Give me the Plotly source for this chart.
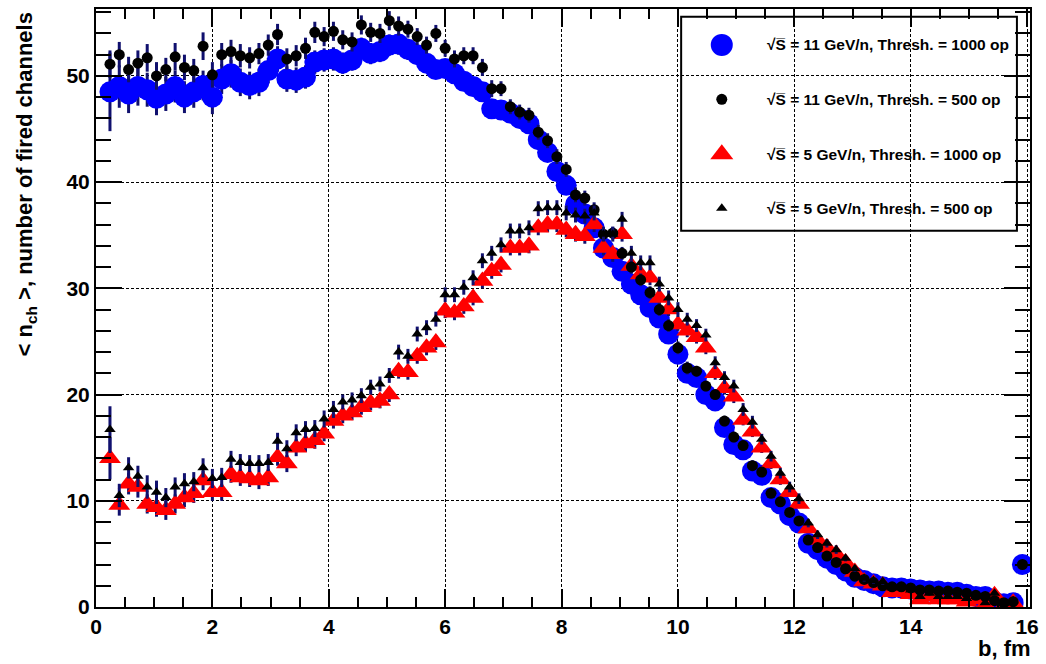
import numpy as np
import plotly.graph_objects as go

# Impact-parameter bins: 100 bins of width 0.16 fm over [0, 16]; the first bin is empty
bin_width = 0.16
b_fm = [round(bin_width * (i + 0.5), 2) for i in range(1, 100)]

# <n_ch> for sqrt(s) = 11 GeV/n, threshold 1000 op
n11_1000 = [48.5, 49.0, 48.3, 49.0, 48.7, 47.9, 48.3, 49.0, 48.0, 48.5,
            49.1, 48.0, 49.7, 50.2, 49.4, 49.1, 49.4, 50.5, 51.6, 49.7,
            49.6, 49.9, 51.3, 51.5, 51.6, 51.2, 51.5, 52.6, 52.1, 52.3,
            52.9, 53.0, 52.5, 52.0, 51.2, 50.6, 50.7, 50.2, 49.5, 49.0,
            48.5, 46.9, 46.8, 46.5, 46.0, 45.5, 44.0, 42.8, 41.0, 39.7,
            37.9, 37.0, 35.7, 33.8, 32.9, 31.6, 30.4, 29.4, 28.2, 27.2,
            25.7, 23.8, 22.0, 21.6, 20.0, 19.4, 16.9, 15.3, 14.8, 12.8,
            12.4, 10.3, 9.7, 8.6, 7.9, 6.0, 5.4, 4.6, 4.0, 3.4,
            2.8, 2.5, 2.2, 1.9, 1.8, 1.8, 1.7, 1.6, 1.5, 1.5,
            1.4, 1.4, 1.2, 1.0, 1.0, 0.5, 0.3, 0.4, 4.0]
e11_1000 = [3.7, 2.0, 1.8, 1.8, 1.6, 1.6, 1.6, 1.5, 1.5, 1.5,
            1.4, 1.6, 1.4, 1.3, 1.3, 1.3, 1.3, 1.2, 1.2, 1.2,
            1.2, 1.1, 1.1, 1.1, 1.1, 1.0, 1.0, 1.0, 1.0, 1.0,
            1.0, 1.0, 1.0, 0.9, 0.9, 0.9, 0.9, 0.9, 0.9, 0.9,
            0.9, 0.8, 0.8, 0.8, 0.8, 0.8, 0.8, 0.8, 0.8, 0.8,
            0.8, 0.7, 0.7, 0.7, 0.7, 0.7, 0.7, 0.7, 0.7, 0.7,
            0.6, 0.6, 0.6, 0.6, 0.6, 0.6, 0.6, 0.5, 0.5, 0.5,
            0.5, 0.5, 0.5, 0.4, 0.4, 0.4, 0.4, 0.3, 0.3, 0.3,
            0.3, 0.3, 0.2, 0.2, 0.2, 0.2, 0.2, 0.2, 0.2, 0.2,
            0.2, 0.2, 0.2, 0.2, 0.2, 0.2, 0.2, 0.2, 0.5]

# <n_ch> for sqrt(s) = 11 GeV/n, threshold 500 op
n11_500 = [51.1, 52.0, 50.6, 51.2, 51.7, 50.0, 50.6, 51.8, 50.8, 50.5,
           52.8, 50.1, 52.0, 52.3, 51.9, 51.7, 52.1, 52.9, 53.9, 51.6,
           51.9, 52.6, 54.1, 53.7, 54.2, 53.4, 53.2, 54.8, 54.1, 54.0,
           55.2, 54.7, 54.4, 53.7, 52.9, 54.0, 52.6, 51.6, 51.9, 51.9,
           50.8, 48.8, 48.8, 47.1, 46.6, 46.3, 44.7, 43.9, 42.4, 41.2,
           38.8, 38.5, 37.4, 35.1, 35.2, 33.3, 32.0, 30.8, 29.6, 28.0,
           26.5, 24.4, 22.5, 22.2, 20.8, 20.0, 17.5, 16.0, 15.2, 13.3,
           12.7, 10.7, 9.9, 8.9, 8.1, 6.3, 5.6, 4.8, 4.2, 3.6,
           2.9, 2.6, 2.3, 2.0, 1.9, 1.9, 1.8, 1.6, 1.6, 1.5,
           1.5, 1.4, 1.3, 1.1, 1.0, 0.6, 0.4, 0.5, 4.0]
e11_500 = [1.3, 1.2, 1.2, 1.2, 1.3, 1.3, 1.1, 1.3, 1.2, 1.1,
           1.3, 1.2, 1.1, 1.1, 1.1, 1.0, 1.0, 1.0, 1.0, 1.0,
           1.0, 1.0, 1.0, 0.9, 0.9, 0.9, 0.9, 0.9, 0.9, 0.9,
           0.9, 0.9, 0.8, 0.8, 0.8, 0.8, 0.8, 0.8, 0.8, 0.8,
           0.8, 0.8, 0.7, 0.7, 0.7, 0.7, 0.7, 0.7, 0.7, 0.7,
           0.7, 0.7, 0.7, 0.6, 0.6, 0.6, 0.6, 0.6, 0.6, 0.6,
           0.6, 0.6, 0.6, 0.5, 0.5, 0.5, 0.5, 0.5, 0.5, 0.5,
           0.4, 0.4, 0.4, 0.4, 0.4, 0.3, 0.3, 0.3, 0.3, 0.3,
           0.3, 0.2, 0.2, 0.2, 0.2, 0.2, 0.2, 0.2, 0.2, 0.2,
           0.2, 0.2, 0.2, 0.2, 0.2, 0.2, 0.2, 0.2, 0.4]

# <n_ch> for sqrt(s) = 5 GeV/n, threshold 1000 op
n5_1000 = [14.0, 9.6, 11.6, 11.3, 9.7, 9.4, 9.1, 9.7, 10.3, 10.7,
           11.9, 10.8, 10.8, 12.5, 12.2, 12.1, 11.9, 12.2, 14.1, 13.5,
           15.0, 15.4, 15.7, 16.3, 17.5, 18.0, 18.3, 18.8, 19.2, 19.4,
           20.0, 22.2, 22.1, 23.6, 24.4, 24.9, 27.9, 27.7, 28.3, 29.1,
           30.7, 31.6, 32.2, 33.8, 33.8, 34.0, 35.7, 36.0, 36.0, 35.5,
           35.1, 34.9, 36.0, 33.8, 33.2, 35.1, 32.1, 31.3, 31.0, 29.1,
           28.0, 26.6, 26.0, 25.4, 24.4, 22.0, 20.6, 19.8, 17.6, 16.5,
           15.0, 13.5, 12.0, 10.8, 9.7, 7.4, 6.3, 5.6, 5.0, 4.2,
           3.3, 2.4, 2.2, 2.0, 1.4, 1.5, 1.2, 0.7, 1.0, 0.7,
           0.7, 0.7, 0.5, 0.7, 0.2, 1.1, 0.1, 0.4, None]
e5_1000 = [2.0, 1.0, 1.0, 1.0, 0.9, 0.9, 0.9, 0.9, 0.9, 0.9,
           0.9, 0.8, 0.8, 0.8, 0.8, 0.8, 0.8, 0.8, 0.8, 0.8,
           0.8, 0.8, 0.8, 0.7, 0.7, 0.7, 0.7, 0.7, 0.7, 0.7,
           0.7, 0.7, 0.7, 0.7, 0.7, 0.7, 0.7, 0.7, 0.7, 0.7,
           0.7, 0.7, 0.7, 0.7, 0.7, 0.7, 0.7, 0.7, 0.7, 0.7,
           0.7, 0.7, 0.7, 0.7, 0.7, 0.7, 0.7, 0.7, 0.7, 0.7,
           0.6, 0.6, 0.6, 0.6, 0.6, 0.6, 0.6, 0.6, 0.5, 0.5,
           0.5, 0.5, 0.5, 0.4, 0.4, 0.4, 0.4, 0.3, 0.3, 0.3,
           0.3, 0.2, 0.2, 0.2, 0.2, 0.2, 0.2, 0.2, 0.2, 0.2,
           0.2, 0.2, 0.2, 0.2, 0.2, 0.2, 0.2, 0.2, 0.0]

# <n_ch> for sqrt(s) = 5 GeV/n, threshold 500 op
n5_500 = [16.7, 10.5, 13.1, 12.3, 11.3, 10.8, 10.3, 11.3, 11.6, 11.8,
          13.1, 12.1, 12.2, 13.9, 13.6, 13.5, 13.5, 13.6, 15.6, 14.9,
          16.4, 16.7, 16.8, 17.7, 18.6, 19.3, 19.5, 19.9, 20.7, 21.0,
          21.8, 24.0, 23.6, 25.7, 26.3, 27.1, 29.4, 29.4, 30.1, 31.0,
          32.6, 33.3, 34.1, 35.4, 35.4, 35.7, 37.5, 37.6, 37.6, 37.1,
          36.9, 36.8, 37.1, 35.1, 35.1, 36.5, 33.3, 32.4, 32.4, 30.4,
          29.1, 28.0, 27.1, 26.5, 25.6, 23.0, 21.6, 20.8, 18.6, 17.4,
          15.8, 14.2, 12.6, 11.3, 10.2, 7.9, 6.8, 6.0, 5.4, 4.6,
          3.6, 2.7, 2.5, 2.4, 1.8, 1.9, 1.6, 1.0, 1.3, 1.0,
          1.0, 1.0, 0.8, 1.0, 0.4, 1.3, 0.3, 0.6, None]
e5_500 = [2.2, 1.1, 1.0, 1.0, 1.1, 1.1, 0.9, 0.9, 1.0, 0.9,
          0.9, 0.9, 0.9, 0.8, 0.8, 0.8, 0.8, 0.8, 0.8, 0.8,
          0.8, 0.8, 0.8, 0.8, 0.8, 0.7, 0.7, 0.7, 0.7, 0.7,
          0.7, 0.7, 0.7, 0.7, 0.7, 0.7, 0.7, 0.7, 0.7, 0.7,
          0.7, 0.7, 0.7, 0.7, 0.7, 0.7, 0.7, 0.7, 0.7, 0.7,
          0.7, 0.7, 0.7, 0.7, 0.7, 0.7, 0.7, 0.7, 0.7, 0.7,
          0.7, 0.7, 0.6, 0.6, 0.6, 0.6, 0.6, 0.6, 0.6, 0.6,
          0.5, 0.5, 0.5, 0.5, 0.5, 0.4, 0.4, 0.4, 0.4, 0.3,
          0.3, 0.3, 0.3, 0.3, 0.2, 0.2, 0.2, 0.2, 0.2, 0.2,
          0.2, 0.2, 0.2, 0.2, 0.2, 0.2, 0.2, 0.2, 0.0]

x_ticks = [0, 2, 4, 6, 8, 10, 12, 14, 16]
y_ticks = [0, 10, 20, 30, 40, 50]

FONT = "Liberation Sans, Arial, sans-serif"
ERR_COLOR = "#10106e"

# (label, values, errors, symbol, size, colour), listed in legend order
series = {
    "11_1000": ("√S\u0305 = 11 GeV/n, Thresh. = 1000 op",
                n11_1000, e11_1000, "circle", 21, "#0000ff"),
    "11_500": ("√S\u0305 = 11 GeV/n, Thresh. = 500 op",
               n11_500, e11_500, "circle", 11, "#000000"),
    "5_1000": ("√S\u0305 = 5 GeV/n, Thresh. = 1000 op",
               n5_1000, e5_1000, "triangle-up", 19, "#ff0000"),
    "5_500": ("√S\u0305 = 5 GeV/n, Thresh. = 500 op",
              n5_500, e5_500, "triangle-up", 10, "#000000"),
}
legend_order = ["11_1000", "11_500", "5_1000", "5_500"]
draw_order = ["11_1000", "5_1000", "11_500", "5_500"]

fig = go.Figure()
for key in draw_order:
    label, vals, errs, sym, size, col = series[key]
    fig.add_trace(go.Scatter(
        x=b_fm, y=vals, mode="markers", name=label,
        marker=dict(symbol=sym, size=size, color=col, line=dict(width=0)),
        error_y=dict(type="data", array=errs, visible=True,
                     color=ERR_COLOR, thickness=3, width=0),
        showlegend=False,
    ))

# Legend box, with its markers placed on an overlay axis spanning the plot area
leg_x0, leg_x1, leg_y0, leg_y1 = 0.6265, 0.986, 0.629, 0.987
fig.add_shape(type="rect", xref="paper", yref="paper",
              x0=leg_x0, x1=leg_x1, y0=leg_y0, y1=leg_y1,
              line=dict(color="black", width=2), fillcolor="white", layer="between")
row_y = [0.940, 0.849, 0.757, 0.667]
for row, key in enumerate(legend_order):
    label, vals, errs, sym, size, col = series[key]
    fig.add_trace(go.Scatter(
        x=[0.670], y=[row_y[row]], xaxis="x2", yaxis="y2", mode="markers",
        marker=dict(symbol=sym, size=size + 1 if size > 15 else size,
                    color=col, line=dict(width=0)),
        showlegend=False, hoverinfo="skip",
    ))
    fig.add_annotation(x=0.716, y=row_y[row], xref="paper", yref="paper",
                       text="<b>" + label + "</b>",
                       showarrow=False, xanchor="left", yanchor="middle",
                       font=dict(family=FONT, size=15.5, color="black"))

axis_common = dict(
    showline=True, linecolor="black", linewidth=2, mirror="ticks",
    ticks="inside", tickcolor="black", tickwidth=2,
    showgrid=True, gridcolor="black", gridwidth=1.3, griddash="3px,2px",
    zeroline=False,
    tickfont=dict(family=FONT, size=21, color="black"),
)

fig.update_layout(
    width=1046, height=664,
    margin=dict(l=96, r=13, t=7, b=57),
    paper_bgcolor="white", plot_bgcolor="white",
    xaxis=dict(range=[0, 16.05], tickmode="array", tickvals=x_ticks,
               ticktext=["<b>%d</b>" % v for v in x_ticks], ticklen=18,
               minor=dict(dtick=0.5, ticklen=10, ticks="inside",
                          tickcolor="black", tickwidth=2, showgrid=False),
               **axis_common),
    yaxis=dict(range=[0, 56.3], tickmode="array", tickvals=y_ticks,
               ticktext=["<b>%d</b>" % v for v in y_ticks], ticklen=26,
               minor=dict(dtick=2, ticklen=15, ticks="inside",
                          tickcolor="black", tickwidth=2, showgrid=False),
               **axis_common),
    xaxis2=dict(overlaying="x", range=[0, 1], visible=False, fixedrange=True),
    yaxis2=dict(overlaying="y", range=[0, 1], visible=False, fixedrange=True),
    showlegend=False,
)

fig.add_annotation(
    x=-0.0747, y=0.998, xref="paper", yref="paper",
    text="<b>&lt; n<sub>ch</sub> &gt;, number of fired channels</b>",
    textangle=-90, showarrow=False, xanchor="center", yanchor="top",
    font=dict(family=FONT, size=22, color="black"))
fig.add_annotation(
    x=1.003, y=-0.07, xref="paper", yref="paper",
    text="<b>b, fm</b>", showarrow=False, xanchor="right", yanchor="middle",
    font=dict(family=FONT, size=22, color="black"))

fig.write_html("out.html")
